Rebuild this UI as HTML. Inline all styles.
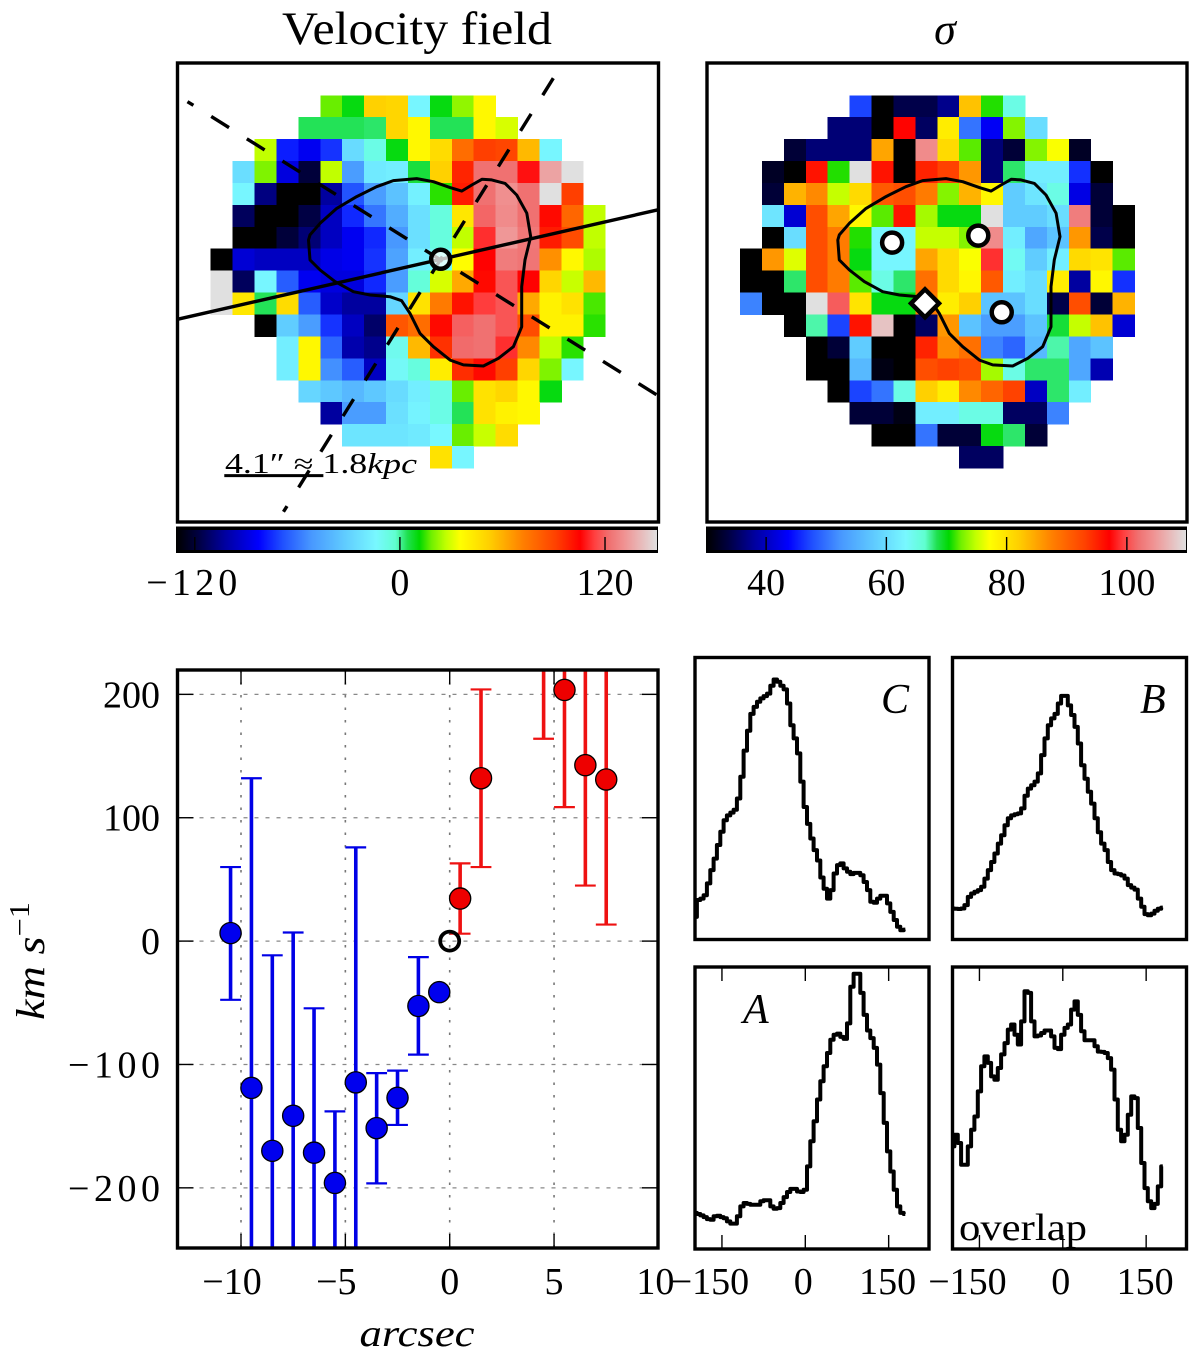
<!DOCTYPE html>
<html lang="en">
<head>
<meta charset="utf-8">
<title>Velocity field, sigma map, rotation curve and spectra</title>
<style>
html,body{margin:0;padding:0;background:#fff}
svg{display:block}
text{font-family:"Liberation Serif","DejaVu Serif",serif;fill:#000}
.it{font-style:italic}
</style>
</head>
<body>
<svg id="fig" xmlns="http://www.w3.org/2000/svg" width="1200" height="1359" viewBox="0 0 1200 1359">
  <defs>
    <linearGradient id="cmap-grad" x1="0" x2="1" y1="0" y2="0"></linearGradient>
    <clipPath id="clip-vel"><rect x="177" y="63" width="481" height="459"/></clipPath>
    <clipPath id="clip-sig"><rect x="707" y="63" width="480" height="459"/></clipPath>
    <clipPath id="clip-rc"><rect x="177" y="670" width="481" height="578"/></clipPath>
  </defs>

  <text x="417" y="44" font-size="47" text-anchor="middle" textLength="270" lengthAdjust="spacingAndGlyphs">Velocity field</text>
  <text x="945" y="44" font-size="44" text-anchor="middle" class="it">σ</text>

  <g id="velocity-map" clip-path="url(#clip-vel)"></g>
  <g id="sigma-map" clip-path="url(#clip-sig)"></g>
  <rect x="177.5" y="63" width="481" height="459" fill="none" stroke="#000" stroke-width="3.4"/>
  <rect x="707" y="63" width="480" height="459" fill="none" stroke="#000" stroke-width="3.4"/>
  <text x="225" y="473" font-size="28" textLength="192" lengthAdjust="spacingAndGlyphs">4.1″ ≈ 1.8<tspan class="it">kpc</tspan></text>

  <g id="velocity-colorbar"></g>
  <g id="sigma-colorbar"></g>

  <g id="rotation-curve"></g>
  <text transform="translate(44,1020) rotate(-90)" font-size="40" text-anchor="start" class="it" textLength="118" lengthAdjust="spacingAndGlyphs">km s<tspan font-size="28" dy="-15" style="font-style:normal">−1</tspan></text>
  <text x="417" y="1346" font-size="38" text-anchor="middle" class="it" textLength="115" lengthAdjust="spacingAndGlyphs">arcsec</text>

  <g id="spectra"></g>
  <text x="881" y="713" font-size="42" class="it">C</text>
  <text x="1140" y="713" font-size="42" class="it">B</text>
  <text x="743" y="1023" font-size="42" class="it">A</text>
  <text x="959" y="1240" font-size="38" textLength="128" lengthAdjust="spacingAndGlyphs">overlap</text>
</svg>

<script>
const velocityRows = [
[null,null,null,null,null,18,10,52,50,-15,10,22,38],
[null,null,null,null,4,4,4,3,50,38,4,4,38,30],
[null,null,27,-78,-86,-74,-26,-8,10,38,48,78,92,90,58,-15],
[null,-25,20,-90,-120,27,-50,-20,-18,6,52,98,123,123,108,136,151],
[null,-15,-108,-131,-131,-103,-68,-50,-36,-17,14,100,123,131,123,151,92],
[null,-114,-131,-131,-118,-96,-76,-60,-44,-24,-6,44,121,130,123,104,80,27],
[null,-131,-131,-120,-110,-96,-86,-76,-52,-24,-6,27,112,133,125,100,88,27],
[-131,-92,-96,-96,-96,-88,-86,-74,-48,-18,-12,36,106,126,124,68,38,25],
[151,-114,-15,-66,-86,-90,-90,-76,-50,-5,30,62,104,118,106,50,28,58],
[151,44,4,48,-66,-94,-103,-103,-28,46,74,102,114,118,62,40,46,16],
[null,null,-131,-32,-50,-74,-96,-112,85,78,104,120,123,118,88,40,40,14],
[null,null,null,-18,38,-64,-100,-106,-10,58,95,122,123,112,70,27,14],
[null,null,null,-18,38,-54,-66,-96,-12,-6,42,96,104,92,50,20,-15],
[null,null,null,null,-28,-34,-40,-34,-26,-18,-8,18,46,50,38,10],
[null,null,null,null,null,-103,-50,-50,-24,-16,-8,4,46,40,38],
[null,null,null,null,null,null,-22,-22,-22,-20,-14,18,28,48],
[null,null,null,null,null,null,null,null,null,null,46,-15]
];
const sigmaRows = [
[null,null,null,null,null,47,30,34,34,37,83,71,65],
[null,null,null,null,36,36,30,97,35,79,50,43,73,60],
[null,null,33,36,36,36,85,30,104,81,72,36,33,73,77,32],
[null,32,30,96,71,110,96,30,95,93,86,36,68,62,62,46,30],
[null,33,84,87,75,81,91,92,88,73,84,78,58,61,65,42,33],
[null,61,41,92,85,78,72,96,74,70,70,110,58,58,60,103,33,30],
[null,30,60,92,88,71,63,63,75,75,73,104,62,54,57,86,34,30],
[30,86,76,92,88,70,63,63,85,81,77,99,64,58,62,81,80,72],
[30,30,68,92,88,72,65,68,89,81,78,91,62,60,79,38,78,46],
[51,30,30,110,101,80,70,70,88,79,82,57,57,60,34,92,33,84],
[null,null,30,67,47,96,108,30,35,86,57,53,53,57,69,75,83,41],
[null,null,null,30,33,58,30,30,95,87,89,51,49,56,67,54,57],
[null,null,null,30,30,56,31,30,92,93,92,74,65,68,68,54,39],
[null,null,null,null,30,47,50,65,82,79,87,90,93,40,68,62],
[null,null,null,null,null,33,33,31,62,62,65,65,35,35,51],
[null,null,null,null,null,null,30,30,50,33,33,70,68,33],
[null,null,null,null,null,null,null,null,null,null,35,35]
];
const contourCol = [4.46,4.53,4.99,5.75,6.66,7.57,8.33,9.40,10.16,10.92,11.45,11.91,12.37,12.82,13.43,13.96,14.42,14.60,14.34,14.19,14.19,13.81,13.13,12.44,11.53,10.92,10.16,9.55,9.09,8.71,8.18,7.27,6.51,5.67,4.99,4.53];
const contourRow = [6.60,6.37,5.84,5.16,4.62,4.17,3.89,3.80,3.94,4.21,4.37,4.09,3.83,3.86,4.02,4.55,5.38,6.45,7.51,8.73,10.56,11.47,12.00,12.35,12.30,12.08,11.47,10.86,9.95,9.37,9.19,9.11,8.96,8.50,7.97,7.51];

const velocityTicks = [-120,0,120];
const velocityTickLabels = ["−120","0","120"];
const sigmaTicks = [40,60,80,100];
const sigmaTickLabels = ["40","60","80","100"];
const velocityRange = [-131,151];
const sigmaRange = [30,110];
const cmapPos = [0,.05,.10,.17,.22,.28,.35,.415,.455,.48,.505,.53,.56,.59,.65,.72,.79,.84,.87,.90,.93,1];
const cmapCol = ["#000000","#00004a","#0000a0","#0000ff","#2050ff","#4898ff","#60ccff","#78f8ff","#60ffd0","#20e050","#00d800","#70f000","#c0ff00","#ffff00","#ffd000","#ff8000","#ff4000","#ff0000","#ff4040","#f07070","#f09090","#e0e0e0"];

const rcXTicks = [-10,-5,0,5,10];
const rcXTickLabels = ["−10","−5","0","5","10"];
const rcYTicks = [200,100,0,-100,-200];
const rcYTickLabels = ["200","100","0","−100","−200"];
const blueX = [-10.5,-9.5,-8.5,-7.5,-6.5,-5.5,-4.5,-3.5,-2.5,-1.5,-0.5];
const blueY = [6.5,-119,-170,-141.6,-171.5,-196,-114.5,-151.6,-127,-52.6,-41.4];
const blueLow = [-47.6,-370,-328,-290,-288,-254,-305,-196.4,-149,-92,null];
const blueHigh = [60,132,-11.5,7,-54.5,-138,76,-107,-105,-13,null];
const redX = [0.5,1.5,4.5,5.5,6.5,7.5];
const redY = [34.5,132,260,203.6,142.6,131];
const redLow = [6,60,164,108.6,45,13.4];
const redHigh = [63,204,356,299,240,249];
const centreX = [0];
const centreY = [0];

const specVelocity = [-198,-192,-186,-180,-174,-168,-162,-156,-150,-144,-138,-132,-126,-120,-114,-108,-102,-96,-90,-84,-78,-72,-66,-60,-54,-48,-42,-36,-30,-24,-18,-12,-6,0,6,12,18,24,30,36,42,48,54,60,66,72,78,84,90,96,102,108,114,120,126,132,138,144,150,156,162,168,174,180];
const fluxC = [8,14,14.5,15.7,19.9,24.6,28.7,33.5,38.2,42.3,44,45,46,50,57.7,67,74,80,82.5,84.3,85.5,86.3,87.2,90,92.2,91.4,90,88.7,83.7,76,71.3,66,56,47,41,35.8,31.7,28,22,18,14.5,17.5,23.4,26.4,27,25.2,24,23.2,23.6,23.6,22.8,20.4,17.5,13.4,13,14.5,15.5,15.5,12.8,9.8,6.9,4.5,3.3,3.5];
const fluxB = [11,10.9,10.8,11,12.2,15.1,16.3,16.9,17.5,18.7,21.6,24.6,27.5,30.5,34,37,40.5,43,44,44.4,44.7,46.5,51,53.5,54.7,56,58.9,65.4,71.3,76,78.4,80,83.7,86.4,86.4,83,79.6,75.4,69.5,61.8,57,52.4,48.2,43,38,34,31.7,27.5,24.6,23.4,23.2,22.7,21.6,19.3,18.4,17.7,14.5,11.6,9,8.6,9.2,10.2,10.9,11.3];
const fluxA = [12.8,12.4,11.9,11.3,10.6,10.4,11.6,11.8,11.3,10.9,9.8,9,9,11.6,15.1,16.3,16,15.7,15.7,15.7,16.9,17.3,17.3,15.1,14.3,14.5,16.3,18.4,20.2,21.3,21.3,20.4,20.2,21,29.3,38.2,45.3,53,59.5,64.8,69.5,74.2,76,76.4,75.2,74.5,80,93,97.6,97.6,90.8,83,77.5,74.8,71.3,65.4,55.3,44.7,34.6,27.5,21,15.1,12.8,12.4];
const fluxOverlap = [36.4,40.5,37.6,29.9,29.9,36.4,42.3,47,55.9,64.8,68.3,66,61.2,60,64.2,69,73,77.8,79.6,76,72.5,80.7,91.4,90.8,80.7,75.4,75.7,76.6,77.5,77.5,75.4,71.3,70.9,76,78.4,79.6,84.9,87.8,83,77.2,74,74,74,71.9,70,69.9,69.5,67.7,63.6,53,42.3,38.2,40.5,47.6,54.1,53.5,42.9,30.5,21.6,16.9,14.5,16,22.2,29.3];
const specTicks = [-150,0,150];
const specTickLabels = ["−150","0","150"];

const NS = "http://www.w3.org/2000/svg";
function mk(parent, tag, attrs, txt) {
  const el = document.createElementNS(NS, tag);
  for (const k in attrs) el.setAttribute(k, attrs[k]);
  if (txt !== undefined) el.textContent = txt;
  parent.appendChild(el);
  return el;
}
function hexToRgb(h) {
  return [parseInt(h.substr(1,2),16), parseInt(h.substr(3,2),16), parseInt(h.substr(5,2),16)];
}
function cmap(t) {
  t = Math.max(0, Math.min(1, t));
  let i = 0;
  while (i < cmapPos.length - 2 && t > cmapPos[i + 1]) i++;
  const f = (t - cmapPos[i]) / (cmapPos[i + 1] - cmapPos[i]);
  const a = hexToRgb(cmapCol[i]);
  const b = hexToRgb(cmapCol[i + 1]);
  return "rgb(" + a.map((c, j) => Math.round(c + (b[j] - c) * f)).join(",") + ")";
}

const gradient = document.getElementById("cmap-grad");
cmapPos.forEach((p, i) => {
  mk(gradient, "stop", { offset: p, "stop-color": cmapCol[i] });
});

const CELL = 21.92;
const MAP_TOP = 95.3;
function colX(x0, c) { return x0 + c * CELL; }
function rowY(r) { return MAP_TOP + r * CELL; }

function drawHeat(g, rows, range, x0) {
  rows.forEach((row, r) => {
    row.forEach((v, c) => {
      if (v === null) return;
      const cell = mk(g, "rect", {
        x: colX(x0, c).toFixed(2), y: rowY(r).toFixed(2),
        width: CELL + 0.4, height: CELL + 0.4,
        fill: cmap((v - range[0]) / (range[1] - range[0])),
        "shape-rendering": "crispEdges"
      });
      
      
    });
  });
}
function drawContour(g, x0) {
  const pts = contourCol.map((c, i) => colX(x0, c).toFixed(1) + "," + rowY(contourRow[i]).toFixed(1)).join(" ");
  const poly = mk(g, "polygon", { points: pts, fill: "none", stroke: "#000", "stroke-width": 3, "stroke-linejoin": "round" });
  
  
}

const velMap = document.getElementById("velocity-map");
const sigMap = document.getElementById("sigma-map");
const VX0 = 210.7;
const SX0 = 740;
drawHeat(velMap, velocityRows, velocityRange, VX0);
drawHeat(sigMap, sigmaRows, sigmaRange, SX0);
drawContour(velMap, VX0);
drawContour(sigMap, SX0);

const major = mk(velMap, "line", { x1: colX(VX0,-1.52), y1: rowY(10.22), x2: colX(VX0,20.38), y2: rowY(5.23), stroke: "#000", "stroke-width": 3.4 });


const dashA = mk(velMap, "line", { x1: colX(VX0,-1.06), y1: rowY(0.29), x2: colX(VX0,20.35), y2: rowY(13.67), stroke: "#000", "stroke-width": 3.4, "stroke-dasharray": "21 21", "stroke-dashoffset": 14 });


const dashB = mk(velMap, "line", { x1: colX(VX0,15.63), y1: rowY(-0.78), x2: colX(VX0,3.32), y2: rowY(19.0), stroke: "#000", "stroke-width": 3.4, "stroke-dasharray": "20 22" });


const scaleBar = mk(velMap, "line", { x1: colX(VX0,0.62), y1: rowY(17.35), x2: colX(VX0,5.14), y2: rowY(17.35), stroke: "#000", "stroke-width": 3 });


const centreCol = [10.49];
const centreRow = [7.48];
const centre = mk(velMap, "circle", { cx: colX(VX0,centreCol[0]), cy: rowY(centreRow[0]), r: 9.5, fill: "#fff", "fill-opacity": 0.75, stroke: "#000", "stroke-width": 4.5 });



const sigmaMarkCol = [6.94,10.87,11.94];
const sigmaMarkRow = [6.72,6.40,9.90];
sigmaMarkCol.forEach((c, i) => {
  const m = mk(sigMap, "circle", { cx: colX(SX0,c), cy: rowY(sigmaMarkRow[i]), r: 10, fill: "#fff", stroke: "#000", "stroke-width": 4.5 });
  
  
});
const dx = colX(SX0, 8.44);
const dy = rowY(9.49);
const diamond = mk(sigMap, "polygon", {
  points: [[dx,dy-14],[dx+14,dy],[dx,dy+14],[dx-14,dy]].map(p => p.join(",")).join(" "),
  fill: "#fff", stroke: "#000", "stroke-width": 4.5, "stroke-linejoin": "miter"
});



function drawColorbar(g, x0, x1, range, ticks, labels, labelOffsets) {
  const back = mk(g, "rect", { x: x0, y: 526.5, width: x1 - x0, height: 26.5, fill: "#000" });
  
  
  const grad = mk(g, "rect", { x: x0 + 1, y: 530, width: x1 - x0 - 2, height: 20, fill: "url(#cmap-grad)" });
  
  
  const sx = v => x0 + (v - range[0]) / (range[1] - range[0]) * (x1 - x0);
  ticks.forEach((v, i) => {
    const t = mk(g, "line", { x1: sx(v), x2: sx(v), y1: 537, y2: 550, stroke: "#000", "stroke-width": 1.4 });
    
    
    const attrs = { x: sx(v) + labelOffsets[i], y: 595, "font-size": 38, "text-anchor": "middle" };
    if (labels[i].charAt(0) === "−") {
      attrs.textLength = 91;
    }
    const lab = mk(g, "text", attrs, labels[i]);
    
    
  });
}
drawColorbar(document.getElementById("velocity-colorbar"), 176, 658, velocityRange, velocityTicks, velocityTickLabels, [-3,0,0]);
drawColorbar(document.getElementById("sigma-colorbar"), 706, 1187, sigmaRange, sigmaTicks, sigmaTickLabels, [0,0,0,0]);

const rc = document.getElementById("rotation-curve");
const RC = { l: 177.5, r: 658, t: 670, b: 1248 };
const rcXScale = v => 449.7 + v * 20.87;
const rcYScale = v => 941.1 - v * 1.2337;

rcXTicks.slice(0, 4).forEach(v => {
  const gl = mk(rc, "line", { x1: rcXScale(v), x2: rcXScale(v), y1: RC.t, y2: RC.b, stroke: "#777", "stroke-width": 1.6, "stroke-dasharray": "2.5 10" });
  
  
});
rcYTicks.forEach(v => {
  const gl = mk(rc, "line", { x1: RC.l, x2: RC.r, y1: rcYScale(v), y2: rcYScale(v), stroke: "#888", "stroke-width": 1.2, "stroke-dasharray": "4 7" });
  
  
});
rcXTicks.forEach((v, i) => {
  const x = rcXScale(v);
  const t1 = mk(rc, "line", { x1: x, x2: x, y1: RC.t, y2: RC.t + 14, stroke: "#000", "stroke-width": 1.4 });
  
  
  const t2 = mk(rc, "line", { x1: x, x2: x, y1: RC.b - 14, y2: RC.b, stroke: "#000", "stroke-width": 1.4 });
  
  
  const lab = mk(rc, "text", { x: i === 4 ? x - 3 : (v < 0 ? x - 9 : x), y: 1294, "font-size": 38, "text-anchor": "middle" }, rcXTickLabels[i]);
  
  
});
rcYTicks.forEach((v, i) => {
  const y = rcYScale(v);
  const t1 = mk(rc, "line", { x1: RC.l, x2: RC.l + 16, y1: y, y2: y, stroke: "#000", "stroke-width": 1.4 });
  
  
  const t2 = mk(rc, "line", { x1: RC.r - 16, x2: RC.r, y1: y, y2: y, stroke: "#000", "stroke-width": 1.4 });
  
  
  const attrs = { x: 160, y: y + 13, "font-size": 38, "text-anchor": "end" };
  if (rcYTickLabels[i].charAt(0) === "−") {
    attrs.textLength = 92;
  }
  const lab = mk(rc, "text", attrs, rcYTickLabels[i]);
  
  
});

const rcPlot = mk(rc, "g", { "clip-path": "url(#clip-rc)" });


function drawErrors(xs, lows, highs, color) {
  xs.forEach((v, i) => {
    if (lows[i] === null) return;
    const x = rcXScale(v);
    const bar = mk(rcPlot, "line", { x1: x, x2: x, y1: rcYScale(lows[i]), y2: rcYScale(highs[i]), stroke: color, "stroke-width": 3.6 });
    
    
    const low = mk(rcPlot, "line", { x1: x - 10.4, x2: x + 10.4, y1: rcYScale(lows[i]), y2: rcYScale(lows[i]), stroke: color, "stroke-width": 2.2 });
    
    
    const high = mk(rcPlot, "line", { x1: x - 10.4, x2: x + 10.4, y1: rcYScale(highs[i]), y2: rcYScale(highs[i]), stroke: color, "stroke-width": 2.2 });
    
    
  });
}
function drawPoints(xs, ys, color) {
  xs.forEach((v, i) => {
    const p = mk(rcPlot, "circle", { cx: rcXScale(v), cy: rcYScale(ys[i]), r: 10.6, fill: color, stroke: "#000", "stroke-width": 1.3 });
    
    
  });
}
drawErrors(blueX, blueLow, blueHigh, "#0000e6");
drawErrors(redX, redLow, redHigh, "#ee1111");
drawPoints(blueX, blueY, "#0000ee");
drawPoints(redX, redY, "#ee0000");
centreX.forEach((v, i) => {
  const c = mk(rcPlot, "circle", { cx: rcXScale(v), cy: rcYScale(centreY[i]), r: 9.5, fill: "none", stroke: "#000", "stroke-width": 3.8 });
  
  
});
const rcFrame = mk(rc, "rect", { x: RC.l, y: RC.t, width: RC.r - RC.l, height: RC.b - RC.t, fill: "none", stroke: "#000", "stroke-width": 3.4 });



const spectra = document.getElementById("spectra");
function drawSpectrum(left, top, flux, withTicks, name) {
  const W = 234, H = 282;
  const sx = v => left + 110.3 + v * 0.5557;
  const sy = f => top + H - f * H / 100;
  let d = "M" + sx(specVelocity[0]).toFixed(1) + " " + sy(flux[0]).toFixed(1);
  for (let i = 1; i < flux.length; i++) {
    const mid = sx((specVelocity[i - 1] + specVelocity[i]) / 2).toFixed(1);
    d += "H" + mid + "V" + sy(flux[i]).toFixed(1);
  }
  d += "H" + sx(specVelocity[flux.length - 1]).toFixed(1);
  const line = mk(spectra, "path", { d: d, fill: "none", stroke: "#000", "stroke-width": 4, "stroke-linejoin": "round" });
  
  
  const frame = mk(spectra, "rect", { x: left, y: top, width: W, height: H, fill: "none", stroke: "#000", "stroke-width": 3.4 });
  
  
  if (withTicks) {
    specTicks.forEach((v, i) => {
      const x = sx(v);
      const t1 = mk(spectra, "line", { x1: x, x2: x, y1: top, y2: top + 14, stroke: "#000", "stroke-width": 1.4 });
      
      
      const t2 = mk(spectra, "line", { x1: x, x2: x, y1: top + H - 14, y2: top + H, stroke: "#000", "stroke-width": 1.4 });
      
      
      const lab = mk(spectra, "text", { x: v < 0 ? x - 12 : (v > 0 ? x - 1 : x - 2), y: 1294, "font-size": 38, "text-anchor": "middle" }, specTickLabels[i]);
      
      
    });
  }
}
drawSpectrum(695, 657.5, fluxC, false, "spectrum-c");
drawSpectrum(952.5, 657.5, fluxB, false, "spectrum-b");
drawSpectrum(695, 967, fluxA, true, "spectrum-a");
drawSpectrum(952.5, 967, fluxOverlap, true, "spectrum-overlap");
</script>
</body>
</html>
